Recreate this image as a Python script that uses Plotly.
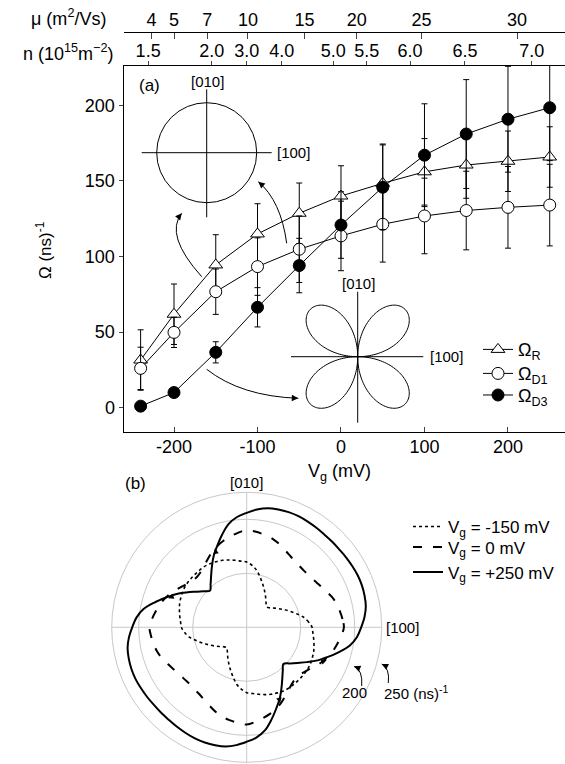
import numpy as np
import plotly.graph_objects as go

W, H = 565, 764
FONT = "Liberation Sans, Arial, sans-serif"
GRAY = "#c8c8c8"

# ---------------- panel (a) data ----------------
vg_mV = [-240, -200, -150, -100, -50, 0, 50, 100, 150, 200, 250]
omega_R = [31.5, 61.8, 94.4, 114.9, 128.6, 140.0, 148.4, 156.0, 160.5, 163.0, 165.8]
omega_D1 = [26.0, 49.8, 76.7, 93.3, 104.8, 113.6, 121.3, 126.8, 130.4, 132.5, 134.0]
omega_D3 = [1.0, 10.0, 36.6, 66.4, 94.0, 120.8, 145.8, 167.0, 181.0, 190.8, 198.4]
err_R = [20, 20, 20, 20, 20, 20, 26, 22, 22, 20, 20]
err_D1 = [14, 10, 15, 19, 22, 23, 25, 25, 26, 27, 27]
err_D3 = [0, 0, 7, 13, 18, 22, 28, 34, 36, 35, 35]

x_ticks = [-200, -100, 0, 100, 200]
x_ticktext = ["-200", "-100", "0", "100", "200"]
y_ticks = [0, 50, 100, 150, 200]

# top axes (labels and their positions in Vg units)
mu_labels = ["4", "5", "7", "10", "15", "20", "25", "30"]
mu_at_vg = [-227.1, -200.0, -160.2, -111.5, -43.7, 18.9, 96.5, 210.9]
n_labels = ["1.5", "2.0", "3.0", "4.0", "5.0", "5.5", "6.0", "6.5", "7.0"]
n_at_vg = [-231.0, -154.8, -112.9, -71.0, -9.2, 30.8, 82.8, 148.5, 228.4]

# ---------------- panel (b) data (theta 0..175 deg, curve repeats every 180 deg) ----------------
theta_half = list(range(0, 180, 5))
r_m150_half = [121, 115, 107, 96, 86, 77, 69, 62, 56, 53, 56, 62, 69, 77, 86, 96, 107, 115,
               121, 123, 126, 129, 132, 134, 136, 137, 137, 137, 137, 137, 136, 134, 132, 129, 126, 123]
r_0_half = [180, 178, 175, 172, 167, 161, 156, 152, 150, 149, 150, 152, 156, 161, 167, 172, 175, 178,
            180, 176, 171, 166, 160, 153, 145, 138, 133, 131, 133, 138, 145, 153, 160, 166, 171, 176]
r_p250_half = [212, 219, 224, 226, 227, 227, 226, 225, 224, 224, 224, 225, 226, 227, 227, 226, 224, 219,
               212, 205, 194, 177, 160, 145, 129, 115, 104, 96, 104, 115, 129, 145, 160, 177, 194, 205]
polar_labels = ["V<sub>g</sub> = -150 mV", "V<sub>g</sub> = 0 mV", "V<sub>g</sub> = +250 mV"]


def fx(px):
    return px / W


def fy(py):
    return 1 - py / H


fig = go.Figure()

# panel (a) traces
marker_line = dict(color="black", width=1)
common = dict(mode="lines+markers", line=dict(color="black", width=1), xaxis="x", yaxis="y",
              cliponaxis=False)
fig.add_trace(go.Scatter(x=vg_mV, y=omega_R, name="Ω<sub>R</sub>", legend="legend",
                         marker=dict(symbol="triangle-up", size=12, color="white", line=marker_line),
                         error_y=dict(type="data", array=err_R, color="black", thickness=1, width=3),
                         **common))
fig.add_trace(go.Scatter(x=vg_mV, y=omega_D1, name="Ω<sub>D1</sub>", legend="legend3",
                         marker=dict(symbol="circle", size=12, color="white", line=marker_line),
                         error_y=dict(type="data", array=err_D1, color="black", thickness=1, width=3),
                         **common))
fig.add_trace(go.Scatter(x=vg_mV, y=omega_D3, name="Ω<sub>D3</sub>", legend="legend4",
                         marker=dict(symbol="circle", size=12, color="black", line=marker_line),
                         error_y=dict(type="data", array=err_D3, color="black", thickness=1, width=3),
                         **common))
# dummy traces so the top axes are drawn
fig.add_trace(go.Scatter(x=[None], y=[None], xaxis="x2", yaxis="y", showlegend=False, hoverinfo="skip"))
fig.add_trace(go.Scatter(x=[None], y=[None], xaxis="x3", yaxis="y", showlegend=False, hoverinfo="skip"))

# panel (b) traces
theta_full = theta_half + [t + 180 for t in theta_half] + [360]
styles = [dict(dash="dot", width=1.6), dict(dash="9px,11px", width=2), dict(dash="solid", width=2)]
polar_legends = ["legend2", "legend5", "legend6"]
for lab, half, st, lg in zip(polar_labels, [r_m150_half, r_0_half, r_p250_half], styles, polar_legends):
    r_full = half + half + [half[0]]
    fig.add_trace(go.Scatterpolar(r=r_full, theta=theta_full, mode="lines", name=lab,
                                  line=dict(color="black", shape="spline", smoothing=1, **st),
                                  subplot="polar", legend=lg))

# ---------------- layout ----------------
x_range = [-260.5, 268.3]


def leg(x, y, size):
    return dict(x=fx(x), y=fy(y), xanchor="left", yanchor="top", bgcolor="rgba(0,0,0,0)",
                font=dict(size=size), itemwidth=30, tracegroupgap=0)


fig.update_layout(
    width=W, height=H, margin=dict(l=0, r=0, t=0, b=0),
    paper_bgcolor="white", plot_bgcolor="white",
    font=dict(family=FONT, size=18, color="black"),
    xaxis=dict(domain=[fx(123.5), 1.0], range=x_range, tickvals=x_ticks, ticktext=x_ticktext,
               ticks="inside", ticklen=5,
               showline=True, mirror=True, linecolor="black", linewidth=1, showgrid=False,
               zeroline=False, anchor="y", tickfont=dict(size=18), ticklabelstandoff=-2),
    yaxis=dict(domain=[fy(432), fy(66)], range=[-16.1, 226], tickvals=y_ticks, ticks="outside",
               ticklen=4, showline=True, mirror=True, linecolor="black", linewidth=1,
               showgrid=False, zeroline=False, anchor="x", tickfont=dict(size=18)),
    xaxis2=dict(overlaying="x", side="top", anchor="y", range=x_range, tickvals=n_at_vg,
                ticktext=n_labels, ticks="outside", ticklen=4, showline=False, showgrid=False,
                zeroline=False, tickfont=dict(size=18), ticklabelstandoff=-3),
    xaxis3=dict(overlaying="x", side="top", anchor="free", position=fy(32), range=x_range,
                tickvals=mu_at_vg, ticktext=mu_labels, ticks="inside", ticklen=6, showline=True,
                linecolor="black", linewidth=1, showgrid=False, zeroline=False,
                tickfont=dict(size=18), ticklabelstandoff=-1),
    polar=dict(domain=dict(x=[fx(111.7), fx(381.7)], y=[fy(762.3), fy(492.3)]), bgcolor="white",
               radialaxis=dict(range=[0, 250], tickvals=[100, 200], showticklabels=False, ticks="",
                               showline=False, gridcolor=GRAY, gridwidth=1),
               angularaxis=dict(tickvals=[0, 90, 180, 270], showticklabels=False, ticks="",
                                gridcolor=GRAY, linecolor=GRAY, showline=True, rotation=0,
                                direction="counterclockwise")),
    legend=leg(478, 331.2, 18),
    legend3=leg(478, 355.2, 18),
    legend4=leg(478, 376.8, 18),
    legend2=leg(408, 509, 17),
    legend5=leg(408, 529.5, 17),
    legend6=leg(408, 554.5, 17),
    showlegend=True,
)

shapes = []
ann = []


def add_text(text, x, y, size=15, xanchor="center", angle=0):
    ann.append(dict(text=text, x=fx(x), y=fy(y), xref="paper", yref="paper", showarrow=False,
                    xanchor=xanchor, yanchor="middle", font=dict(size=size), textangle=angle))


def line_px(x0, y0, x1, y1, color="black", width=1):
    shapes.append(dict(type="line", xref="paper", yref="paper", x0=fx(x0), y0=fy(y0), x1=fx(x1),
                       y1=fy(y1), line=dict(color=color, width=width)))


def arrow_head(x, y, tx, ty, L=6, size=1.3):
    n = (tx ** 2 + ty ** 2) ** 0.5
    ann.append(dict(x=fx(x), y=fy(y), xref="paper", yref="paper", text="", showarrow=True,
                    ax=-tx / n * L, ay=-ty / n * L, arrowhead=2, arrowsize=size, arrowwidth=1,
                    arrowcolor="black", standoff=0))


def curved_arrow(p0, c, p1):
    path = "M %f,%f Q %f,%f %f,%f" % (fx(p0[0]), fy(p0[1]), fx(c[0]), fy(c[1]), fx(p1[0]), fy(p1[1]))
    shapes.append(dict(type="path", xref="paper", yref="paper", path=path,
                       line=dict(color="black", width=1)))
    arrow_head(p1[0], p1[1], p1[0] - c[0], p1[1] - c[1])


# inset: isotropic circle
cx, cy, R = 206.7, 152.7, 50
shapes.append(dict(type="circle", xref="paper", yref="paper", x0=fx(cx - R), x1=fx(cx + R),
                   y0=fy(cy + R), y1=fy(cy - R), line=dict(color="black", width=1)))
line_px(141.7, cy, 271.7, cy)
line_px(cx, 89.3, cx, 217.3)
add_text("[010]", 207, 81)
add_text("[100]", 275, 152.7, xanchor="left")

# inset: four-lobe pattern
ccx, ccy, RR = 357.7, 356.7, 67
t = np.linspace(0, 2 * np.pi, 361)
rr = RR * np.abs(np.sin(2 * t))
pts = ["%f,%f" % (fx(ccx + r_ * np.cos(a)), fy(ccy - r_ * np.sin(a))) for r_, a in zip(rr, t)]
shapes.append(dict(type="path", xref="paper", yref="paper", path="M " + " L ".join(pts) + " Z",
                   line=dict(color="black", width=1)))
line_px(291, ccy, 423.3, ccy)
line_px(ccx, 291.7, ccx, 422.7)
add_text("[010]", 358.3, 283.3)
add_text("[100]", 428.3, 356.7, xanchor="left")

# curved arrows in panel (a)
curved_arrow((201.7, 276.7), (164.3, 235.0), (181.7, 213.3))
curved_arrow((286.7, 243.3), (280.9, 200.9), (258.3, 181.7))
curved_arrow((206.7, 369.3), (240.9, 396.2), (298.3, 398.3))

# panel labels / axis titles
add_text("(a)", 149, 85, size=17)
add_text("(b)", 135, 484, size=17)
add_text("[010]", 246.5, 482.5)
add_text("[100]", 384, 627, xanchor="left")
add_text("200", 354, 692.5)
add_text("250 (ns)<sup>-1</sup>", 382, 692.5, xanchor="left")
add_text("V<sub>g</sub> (mV)", 339, 472, size=18)
add_text("Ω (ns)<sup>-1</sup>", 44, 250, size=17, angle=-90)
add_text("μ (m<sup>2</sup>/Vs)", 108, 18, size=18, xanchor="right")
add_text("n (10<sup>15</sup>m<sup>−2</sup>)", 115, 52, size=18, xanchor="right")

# arrows pointing at circles in panel (b)
curved_arrow((361.7, 686.0), (363.0, 670.0), (354.0, 666.3))
curved_arrow((388.3, 683.0), (390.0, 668.0), (381.7, 664.0))

# small direction marks on the polar curves
arrow_head(215.0, 548.3, -1, -5, L=5, size=1.1)
arrow_head(168.3, 598.3, -5, 2, L=5, size=1.1)
arrow_head(280.0, 703.3, 1, 5, L=5, size=1.1)
arrow_head(326.7, 660.0, 5, -2, L=5, size=1.1)

fig.update_layout(shapes=shapes, annotations=ann)
fig.write_html("out.html", config={"displayModeBar": False},
               post_script="document.body.style.margin='0';document.body.style.overflow='hidden';")
